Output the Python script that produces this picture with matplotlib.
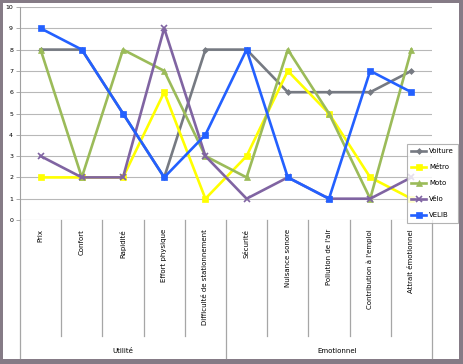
import numpy as np
import matplotlib.pyplot as plt
from matplotlib.patches import Rectangle

categories = ["Prix", "Confort", "Rapidité", "Effort physique",
              "Difficulté de stationnement", "Sécurité", "Nuisance sonore",
              "Pollution de l'air", "Contribution à l'emploi", "Attrait émotionnel"]
groups = ["Utilité", "Emotionnel"]

voiture = [8, 8, 5, 2, 8, 8, 6, 6, 6, 7]
metro = [2, 2, 2, 6, 1, 3, 7, 5, 2, 1]
moto = [8, 2, 8, 7, 3, 2, 8, 5, 1, 8]
velo = [3, 2, 2, 9, 3, 1, 2, 1, 1, 2]
velib = [9, 8, 5, 2, 4, 8, 2, 1, 7, 6]

series = [("Voiture", voiture, "#767a82", "D", 3),
          ("Métro", metro, "#ffff00", "s", 4.5),
          ("Moto", moto, "#9bbb59", "^", 4.5),
          ("Vélo", velo, "#8064a2", "x", 4.5),
          ("VELIB", velib, "#2360ff", "s", 4.5)]

W, H = 463, 364
fig = plt.figure(figsize=(W / 100, H / 100), dpi=100)
fig.patch.set_facecolor("#857b86")
fig.add_artist(Rectangle((3 / W, 5 / H), 456 / W, 356 / H, facecolor="white",
                         edgecolor="none", transform=fig.transFigure, zorder=0))

left, right, top, bottom = 20, 432, 7, 220
ax = fig.add_axes([left / W, 1 - bottom / H, (right - left) / W, (bottom - top) / H])
ax.set_facecolor("none")

x = np.arange(len(categories))
for name, vals, col, mk, ms in series:
    ax.plot(x, vals, color=col, lw=1.9, marker=mk, markersize=ms,
            markeredgewidth=1.2 if mk == "x" else 0.5, label=name, zorder=3)

ax.set_xlim(-0.5, len(categories) - 0.5)
ax.set_ylim(0, 10)
ax.set_yticks(range(0, 11))
ax.set_yticklabels([str(i) for i in range(0, 11)], fontsize=4.5)
ax.tick_params(axis="y", length=3, width=0.6, color="#a0a0a0", pad=2)
ax.set_xticks([])
for i in range(0, 11):
    ax.axhline(i, color="#b8b8b8", lw=0.8, zorder=1)
for s in ["top", "right", "bottom"]:
    ax.spines[s].set_visible(False)
ax.spines["left"].set_color("#a0a0a0")
ax.spines["left"].set_linewidth(0.8)

axh = bottom - top
trans = ax.get_xaxis_transform()
for b in np.arange(-0.5, len(categories), 1.0):
    if b in (-0.5, 4.5, 9.5):
        y0 = -(358 - bottom) / axh
    else:
        y0 = -(336 - bottom) / axh
    ax.plot([b, b], [0, y0], transform=trans, color="#a6a6a6", lw=0.9, clip_on=False)

for i, cat in enumerate(categories):
    ax.text(i, -(229 - bottom) / axh, cat, transform=trans, rotation=90,
            ha="center", va="top", fontsize=5)

ax.text(2, -(351 - bottom) / axh, groups[0], transform=trans, ha="center",
        va="center", fontsize=5)
ax.text(7.2, -(351 - bottom) / axh, groups[1], transform=trans, ha="center",
        va="center", fontsize=5)

leg = fig.legend(loc="upper left", bbox_to_anchor=(407 / W, 1 - 144 / H),
                 fontsize=5, frameon=True, fancybox=False, handlelength=2.2,
                 borderpad=0.6, labelspacing=1.45, handletextpad=0.4,
                 borderaxespad=0)
leg.get_frame().set_edgecolor("#a0a0a0")
leg.get_frame().set_linewidth(0.8)

fig.savefig("out.png", dpi=100, facecolor=fig.get_facecolor())
